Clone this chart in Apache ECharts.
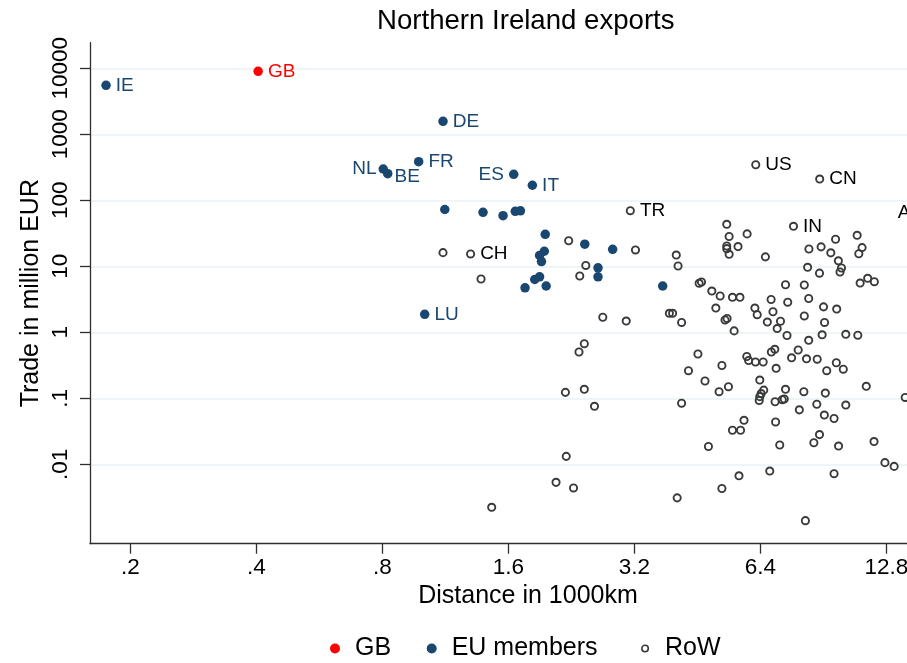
<!DOCTYPE html>
<html>
<head>
<meta charset="utf-8">
<script src="https://cdn.jsdelivr.net/npm/echarts@6/dist/echarts.min.js"></script>
<style>html,body{margin:0;padding:0;background:#fff;}#c{width:907px;height:663px;}</style>
</head>
<body>
<div id="c"></div>
<script>
// ---- data ----
const xTickValues = [0.2, 0.4, 0.8, 1.6, 3.2, 6.4, 12.8];
const xTickLabels = ['.2', '.4', '.8', '1.6', '3.2', '6.4', '12.8'];
const yTickValues = [0.01, 0.1, 1, 10, 100, 1000, 10000];
const yTickLabels = ['.01', '.1', '1', '10', '100', '1000', '10000'];

const gbCode = ['GB'];
const gbDist = [0.404];
const gbTrade = [9010];

const euCode = ['IE', 'DE', 'NL', 'BE', 'FR', 'ES', 'IT', 'LU',
  '', '', '', '', '', '', '', '', '', '', '', '', '', '', '', '', '', ''];
const euDist = [0.175, 1.117, 0.804, 0.824, 0.977, 1.648, 1.826, 1.01,
  1.128, 1.392, 1.554, 1.662, 1.71, 1.96, 2.436, 2.84, 1.95, 1.90, 1.92, 2.62, 2.62, 1.85, 1.90, 1.754, 1.97, 3.74];
const euTrade = [5525, 1574, 298, 253, 385, 248, 169, 1.875,
  72.6, 65.8, 58.4, 68.1, 69.3, 30.5, 21.6, 18.1, 16.9, 14.6, 11.8, 9.5, 6.93, 6.31, 6.93, 4.72, 5.03, 5.03];

const rowCode = ['US', 'CN', 'TR', 'IN', 'CH', 'AU'];
const rowDist = [6.24, 8.87, 3.13, 7.68, 1.30, 16.6,
  1.117, 1.377, 2.23, 2.45, 2.37, 3.22, 4.03, 4.07, 5.32, 5.39, 5.95, 5.32, 5.32, 5.39, 5.66, 6.58,
  8.36, 8.94, 9.68, 9.43, 9.83, 10.0, 9.92, 10.9, 11.2, 11.0, 8.3, 8.86, 7.35, 8.15, 11.08, 11.55, 11.98,
  4.57, 4.63, 4.90, 5.13, 5.49, 5.72, 6.79, 7.44, 8.35, 9.06, 9.74, 6.21, 6.29, 6.86, 5.01, 5.27, 5.33,
  5.54, 6.65, 7.15, 7.02, 7.41, 8.15, 9.11, 8.35, 8.99, 10.24, 10.94, 2.69, 3.06, 3.88, 3.95, 4.15,
  4.54, 4.31, 4.72, 5.18, 5.10, 5.37, 5.94, 6.0, 6.23, 6.5, 6.80, 6.93, 6.98, 7.88, 7.6, 8.25, 8.75,
  9.72, 9.22, 10.1, 6.38, 6.52, 6.43, 6.38, 6.36, 6.94, 7.22, 7.3, 7.35, 8.13, 9.15, 7.93, 8.73, 9.1,
  9.6, 10.24, 11.46, 14.2, 6.96, 5.85, 5.49, 5.74, 4.81, 7.12, 8.86, 8.59, 9.84, 11.96, 12.7, 13.36,
  6.74, 5.69, 5.18, 9.6, 8.2, 4.05, 2.19, 2.43, 2.57, 2.36, 2.43, 2.2, 2.08, 2.29, 1.46, 4.15];
const rowTrade = [346, 210, 69.6, 40.4, 15.4, 65.8,
  16.1, 6.42, 24.4, 10.3, 7.13, 17.7, 14.8, 10.1, 43.3, 28.3, 31.0, 20.3, 18.5, 15.2, 19.9, 13.9,
  18.3, 19.7, 25.7, 16.0, 12.1, 9.42, 8.2, 29.5, 19.2, 15.5, 9.66, 7.87, 5.25, 5.21, 5.58, 6.58, 5.84,
  5.53, 5.78, 4.22, 3.55, 3.39, 3.39, 3.14, 2.86, 3.25, 2.43, 2.25, 2.33, 1.85, 2.05, 2.33, 1.54, 1.62,
  1.05, 1.43, 1.47, 1.14, 0.894, 1.77, 1.41, 0.757, 0.917, 0.933, 0.904, 1.69, 1.48, 1.94, 1.94, 1.41,
  0.469, 0.262, 0.183, 0.314, 0.126, 0.150, 0.430, 0.374, 0.355, 0.355, 0.503, 0.553, 0.285, 0.539, 0.411, 0.397, 0.391,
  0.346, 0.262, 0.276, 0.189, 0.133, 0.118, 0.106, 0.0927, 0.0887, 0.0953, 0.0976, 0.137, 0.126, 0.120, 0.0669, 0.0812, 0.0558,
  0.0494, 0.079, 0.152, 0.103, 0.0438, 0.0464, 0.0328, 0.0328, 0.0186, 0.0196, 0.0282, 0.0212, 0.0189, 0.0221, 0.0106, 0.0093,
  0.0079, 0.0067, 0.0043, 0.0072, 0.0014, 0.0031, 0.123, 0.137, 0.0757, 0.503, 0.672, 0.0132, 0.00533, 0.00438, 0.00223, 0.0843];

// ---- styles ----
const FONT = '"Liberation Sans", Arial, Helvetica, sans-serif';
const NAVY = '#1a476f', RED = '#ff0000', GRAY = '#3a3a3a';
const leftLabels = { NL: 2, ES: 5, AU: 5 };
const labelOffsets = { BE: [0, 3] };

function build(codes, dists, trades, color) {
  return dists.map((d, i) => {
    const c = codes[i] || '';
    const item = { value: [d, trades[i]], name: c };
    if (c) {
      const isLeft = c in leftLabels;
      item.label = {
        show: true, formatter: c, color: color,
        position: isLeft ? 'left' : 'right',
        distance: isLeft ? leftLabels[c] : (c === 'BE' ? 2 : 5),
        offset: labelOffsets[c] || [0, 0],
        fontSize: 19, fontFamily: FONT
      };
    }
    return item;
  });
}

function fmt(values, labels) {
  return function (v) {
    for (let i = 0; i < values.length; i++) {
      if (Math.abs(Math.log(v / values[i])) < 1e-4) return labels[i];
    }
    return '';
  };
}

const legendText = { fontSize: 25, color: '#000', fontFamily: FONT };
const chart = echarts.init(document.getElementById('c'), null, { renderer: 'canvas' });
chart.setOption({
  animation: false,
  backgroundColor: '#fff',
  title: {
    text: 'Northern Ireland exports',
    left: 372, top: 2, padding: 5,
    textStyle: { fontSize: 27.6, fontWeight: 'normal', color: '#000', fontFamily: FONT }
  },
  legend: [
    { data: ['GB'], left: 330, top: 636, padding: 0, itemWidth: 30, itemHeight: 10, itemGap: 0,
      textStyle: legendText, icon: 'circle', selectedMode: false },
    { data: ['EU members'], left: 426.7, top: 636, padding: 0, itemWidth: 30, itemHeight: 10, itemGap: 0,
      textStyle: legendText, icon: 'circle', selectedMode: false },
    { data: ['RoW'], left: 641, top: 636, padding: 0, itemWidth: 30, itemHeight: 6.5, itemGap: 0,
      textStyle: legendText, icon: 'circle', selectedMode: false,
      itemStyle: { color: 'rgba(0,0,0,0)', borderColor: GRAY, borderWidth: 1.6, opacity: 1 } }
  ],
  grid: { left: 90, top: 42.7, width: 876, height: 501, containLabel: false, outerBoundsMode: 'none' },
  xAxis: {
    type: 'log', logBase: 2,
    min: 0.2 * Math.pow(2, -0.32), max: 0.2 * Math.pow(2, 6.632),
    name: 'Distance in 1000km', nameLocation: 'middle', nameGap: 40, nameMoveOverlap: false,
    nameTextStyle: { fontSize: 25, color: '#000', fontFamily: FONT },
    axisLine: { show: true, lineStyle: { color: '#2e2e2e', width: 1.3 } },
    axisTick: { show: true, length: 10, customValues: xTickValues, lineStyle: { color: '#2e2e2e', width: 1.3 } },
    axisLabel: { customValues: xTickValues, formatter: fmt(xTickValues, xTickLabels), margin: 13,
      fontSize: 22.5, color: '#000', fontFamily: FONT, showMinLabel: true, showMaxLabel: true, hideOverlap: false },
    splitLine: { show: false }, minorTick: { show: false }
  },
  yAxis: {
    type: 'log', logBase: 10,
    min: Math.pow(10, -3.203), max: Math.pow(10, 4.388),
    name: 'Trade in million EUR', nameLocation: 'middle', nameGap: 46, nameMoveOverlap: false,
    nameTextStyle: { fontSize: 25, color: '#000', fontFamily: FONT },
    axisLine: { show: true, lineStyle: { color: '#2e2e2e', width: 1.3 } },
    axisTick: { show: true, length: 10, customValues: yTickValues, lineStyle: { color: '#2e2e2e', width: 1.3 } },
    axisLabel: { customValues: yTickValues, formatter: fmt(yTickValues, yTickLabels), rotate: 90, margin: 18,
      fontSize: 22.5, color: '#000', fontFamily: FONT, showMinLabel: true, showMaxLabel: true, hideOverlap: false },
    splitLine: { show: true, lineStyle: { color: '#eaf2f3', width: 1.6 } }, minorTick: { show: false }
  },
  series: [
    { name: 'RoW', type: 'scatter', symbol: 'circle', symbolSize: 7.2, z: 2,
      itemStyle: { color: 'rgba(0,0,0,0)', borderColor: GRAY, borderWidth: 1.9, opacity: 1 },
      emphasis: { disabled: true },
      data: build(rowCode, rowDist, rowTrade, '#000') },
    { name: 'EU members', type: 'scatter', symbol: 'circle', symbolSize: 9.5, z: 3,
      itemStyle: { color: NAVY, opacity: 1 },
      emphasis: { disabled: true },
      data: build(euCode, euDist, euTrade, NAVY) },
    { name: 'GB', type: 'scatter', symbol: 'circle', symbolSize: 9.5, z: 4,
      itemStyle: { color: RED, opacity: 1 },
      emphasis: { disabled: true },
      data: build(gbCode, gbDist, gbTrade, RED) }
  ]
});
</script>
</body>
</html>
